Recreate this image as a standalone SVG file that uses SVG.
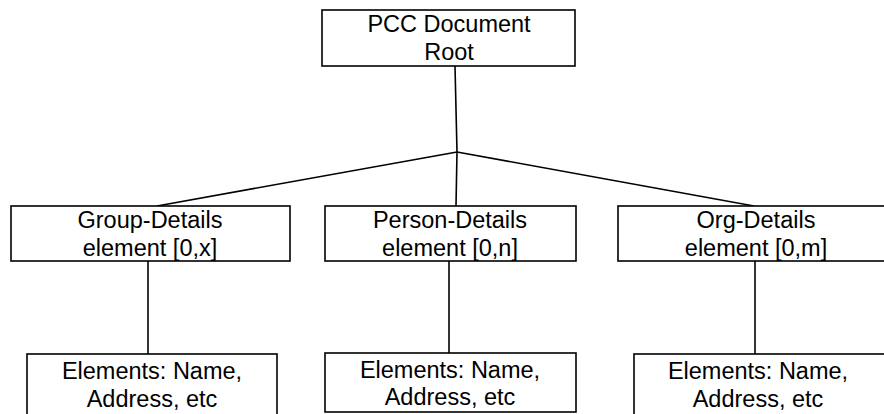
<svg xmlns="http://www.w3.org/2000/svg" width="884" height="414" viewBox="0 0 884 414">
<style>
rect{fill:#fff;stroke:#000;stroke-width:1.6}
line{stroke:#000;stroke-width:1.6}
text{font-family:"Liberation Sans",Arial,sans-serif;font-size:23.5px;fill:#000;text-anchor:middle}
</style>
<rect x="0" y="0" width="884" height="414" style="stroke:none"/>
<g id="connectors">
<line x1="455" y1="66" x2="457" y2="152"/>
<line x1="457" y1="152" x2="157" y2="206"/>
<line x1="457" y1="152" x2="456" y2="206"/>
<line x1="457" y1="152" x2="754" y2="206"/>
<line x1="148" y1="261" x2="148" y2="354"/>
<line x1="449" y1="261" x2="449" y2="353"/>
<line x1="755" y1="261" x2="755" y2="354"/>
</g>
<g id="root">
<rect x="322" y="10" width="253" height="56"/>
<text x="449" y="32">PCC Document</text>
<text x="449" y="60">Root</text>
</g>
<g id="group-details">
<rect x="11" y="206" width="279" height="55"/>
<text x="150" y="228">Group-Details</text>
<text x="150" y="256">element [0,x]</text>
</g>
<g id="person-details">
<rect x="325" y="206" width="251" height="55"/>
<text x="450" y="228">Person-Details</text>
<text x="450" y="256">element [0,n]</text>
</g>
<g id="org-details">
<rect x="618" y="206" width="280" height="55"/>
<text x="756" y="228">Org-Details</text>
<text x="756" y="256">element [0,m]</text>
</g>
<g id="group-elements">
<rect x="27" y="354" width="250" height="70"/>
<text x="152" y="379">Elements: Name,</text>
<text x="152" y="407">Address, etc</text>
</g>
<g id="person-elements">
<rect x="325" y="353" width="251" height="59"/>
<text x="450" y="378">Elements: Name,</text>
<text x="450" y="405">Address, etc</text>
</g>
<g id="org-elements">
<rect x="634" y="354" width="270" height="70"/>
<text x="758" y="379">Elements: Name,</text>
<text x="758" y="407">Address, etc</text>
</g>
</svg>
